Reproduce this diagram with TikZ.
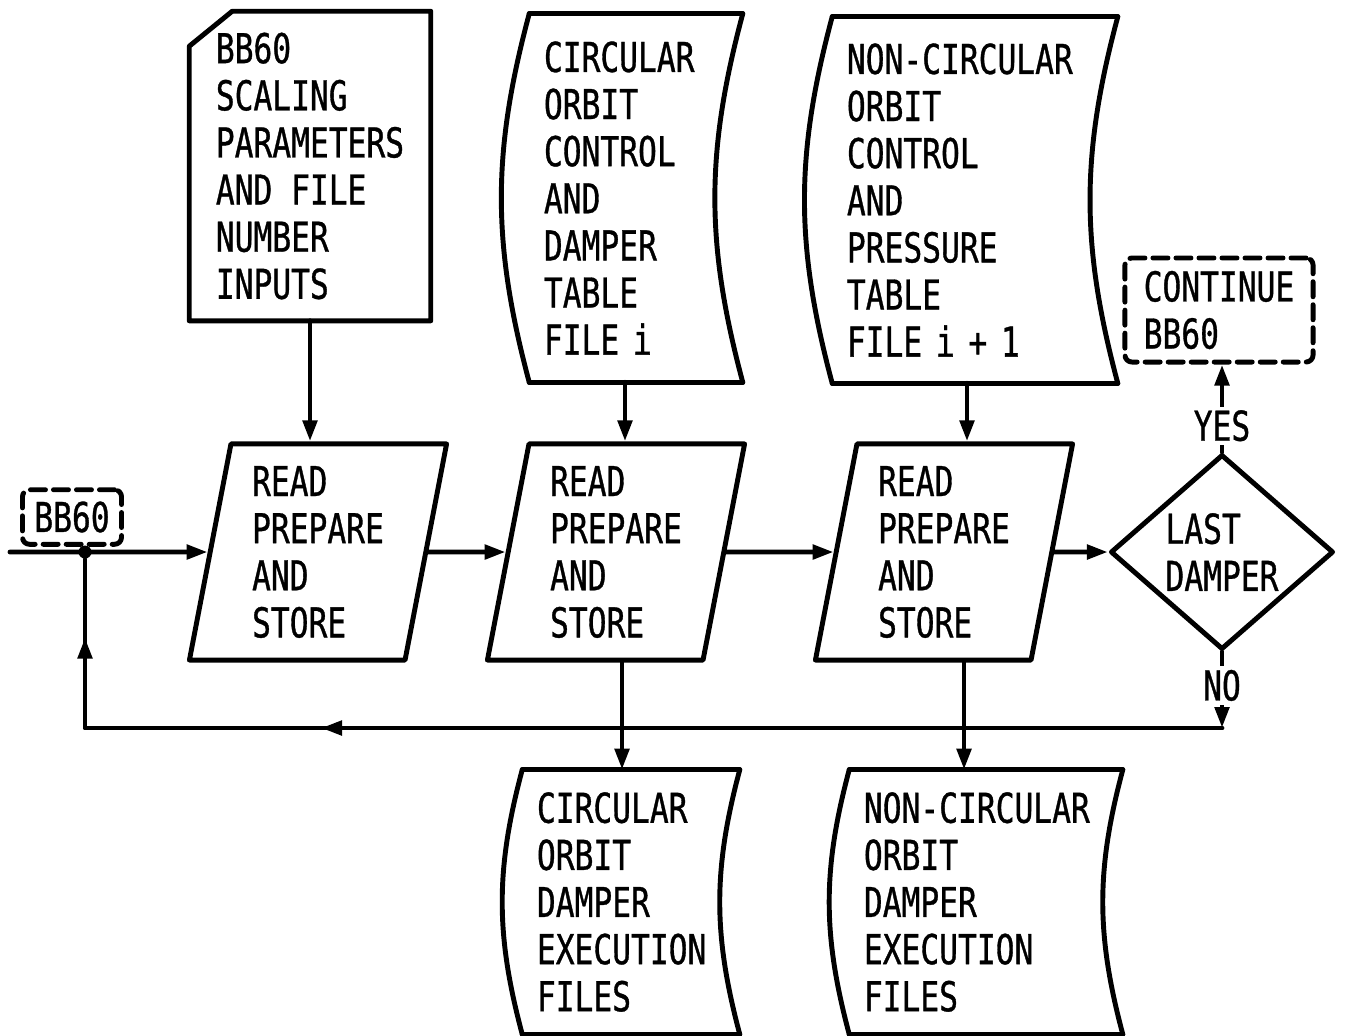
\documentclass[tikz,border=0pt]{standalone}
\usepackage{fontspec}
\setmainfont[FakeStretch=0.76, FakeBold=0.8]{DejaVu Sans Mono}
\usetikzlibrary{shapes.geometric, arrows.meta, calc, decorations.markings}
\tikzset{
    font=\fontsize{11.7}{13.4}\selectfont,
    >={Triangle[length=0.21cm, width=0.14cm]},
    % Lines
    line/.style={line width=1.4pt, line cap=round, line join=round},
    flow/.style={->, line},
    lbl/.style={fill=white, inner sep=1pt},
    retflow/.style={line, postaction={decorate},
                    decoration={markings, mark=at position 0.69 with {\arrow{>}},
                                mark=at position 0.94 with {\arrow{>}}}},
    % Shapes
    cardShape/.style={align=left, minimum width=2.4cm, minimum height=3.08cm,
                      append after command={\pgfextra{
                          \draw[line] ([yshift=-0.35cm]\tikzlastnode.north west)
                              -- ([xshift=0.43cm]\tikzlastnode.north west)
                              -- (\tikzlastnode.north east) -- (\tikzlastnode.south east)
                              -- (\tikzlastnode.south west) -- cycle;}}},
    procBox/.style={trapezium, trapezium left angle=78, trapezium right angle=102,
                    trapezium stretches body, draw, line, align=left,
                    minimum width=2.57cm, minimum height=2.16cm},
    decision/.style={diamond, aspect=1.15, draw, line, inner sep=0pt, align=left,
                     minimum width=2.23cm, minimum height=1.95cm},
    ghost/.style={draw, line, dash pattern=on 0.15cm off 0.08cm, rounded corners=2pt, align=left},
    sheet/.style={inner xsep=0.14cm, align=left,
                  append after command={
                      (\tikzlastnode.north west) edge[draw, line, bend right=15] (\tikzlastnode.south west)
                      (\tikzlastnode.north east) edge[draw, line, bend right=15] (\tikzlastnode.south east)
                      (\tikzlastnode.north west) edge[draw, line] (\tikzlastnode.north east)
                      (\tikzlastnode.south west) edge[draw, line] (\tikzlastnode.south east)}},
    dot/.style={circle, fill, inner sep=0pt, minimum size=0.13cm}
}

\begin{document}
\begin{tikzpicture}[x=0.01cm, y=-0.01cm]
\useasboundingbox (0,0) rectangle (1348,1035);

% input files
\node[cardShape] (card) at (310,166) {BB60\\SCALING\\PARAMETERS\\AND FILE\\NUMBER\\INPUTS};
\node[sheet, text width=1.84cm, minimum height=3.67cm] (tab1) at (636,198) {CIRCULAR\\ORBIT\\CONTROL\\AND\\DAMPER\\TABLE\\FILE i};
\node[sheet, text width=2.56cm, minimum height=3.65cm] (tab2) at (975,200) {NON-CIRCULAR\\ORBIT\\CONTROL\\AND\\PRESSURE\\TABLE\\FILE i + 1};

% main row
\node[procBox] (rp1) at (318,552) {READ\\PREPARE\\AND\\STORE};
\node[procBox] (rp2) at (616,552) {READ\\PREPARE\\AND\\STORE};
\node[procBox] (rp3) at (944,552) {READ\\PREPARE\\AND\\STORE};
\node[decision] (dec) at (1222,552) {LAST\\DAMPER};
\node[ghost, minimum width=1.88cm, minimum height=1.04cm] (cont) at (1219,310) {CONTINUE\\BB60};

% entry
\node[ghost, minimum width=0.99cm, minimum height=0.5cm] (entry) at (72,517) {BB60};
\coordinate (inlet) at (10,552);
\node[dot] (jn) at (85,552) {};
\coordinate (ret) at (1222,728);

% output files
\node[sheet, text width=1.88cm, minimum height=2.63cm] (exc1) at (631,902) {CIRCULAR\\ORBIT\\DAMPER\\EXECUTION\\FILES};
\node[sheet, text width=2.44cm, minimum height=2.63cm] (exc2) at (986,902) {NON-CIRCULAR\\ORBIT\\DAMPER\\EXECUTION\\FILES};

\draw[flow] (card.south) -- (card.south |- rp1.north);
\draw[flow] ([xshift=-0.11cm]tab1.south) -- ([xshift=-0.11cm]tab1.south |- rp2.north);
\draw[flow] ([xshift=-0.08cm]tab2.south) -- ([xshift=-0.08cm]tab2.south |- rp3.north);
\draw[flow] (inlet) -- (rp1);
\draw[flow] (rp1) -- (rp2);
\draw[flow] (rp2) -- (rp3);
\draw[flow] (rp3) -- (dec);
\draw[flow] ([xshift=0.06cm]rp2.south) -- ([xshift=0.06cm]rp2.south |- exc1.north);
\draw[flow] ([xshift=0.2cm]rp3.south) -- ([xshift=0.2cm]rp3.south |- exc2.north);
\draw[flow] (dec.north) -- node[lbl, pos=0.3] {YES} (dec.north |- cont.south);
\draw[flow] (dec.south) -- node[lbl, pos=0.44] {NO} (ret);
\draw[retflow] (ret) -- (ret -| jn) -- (jn);

\end{tikzpicture}
\end{document}
